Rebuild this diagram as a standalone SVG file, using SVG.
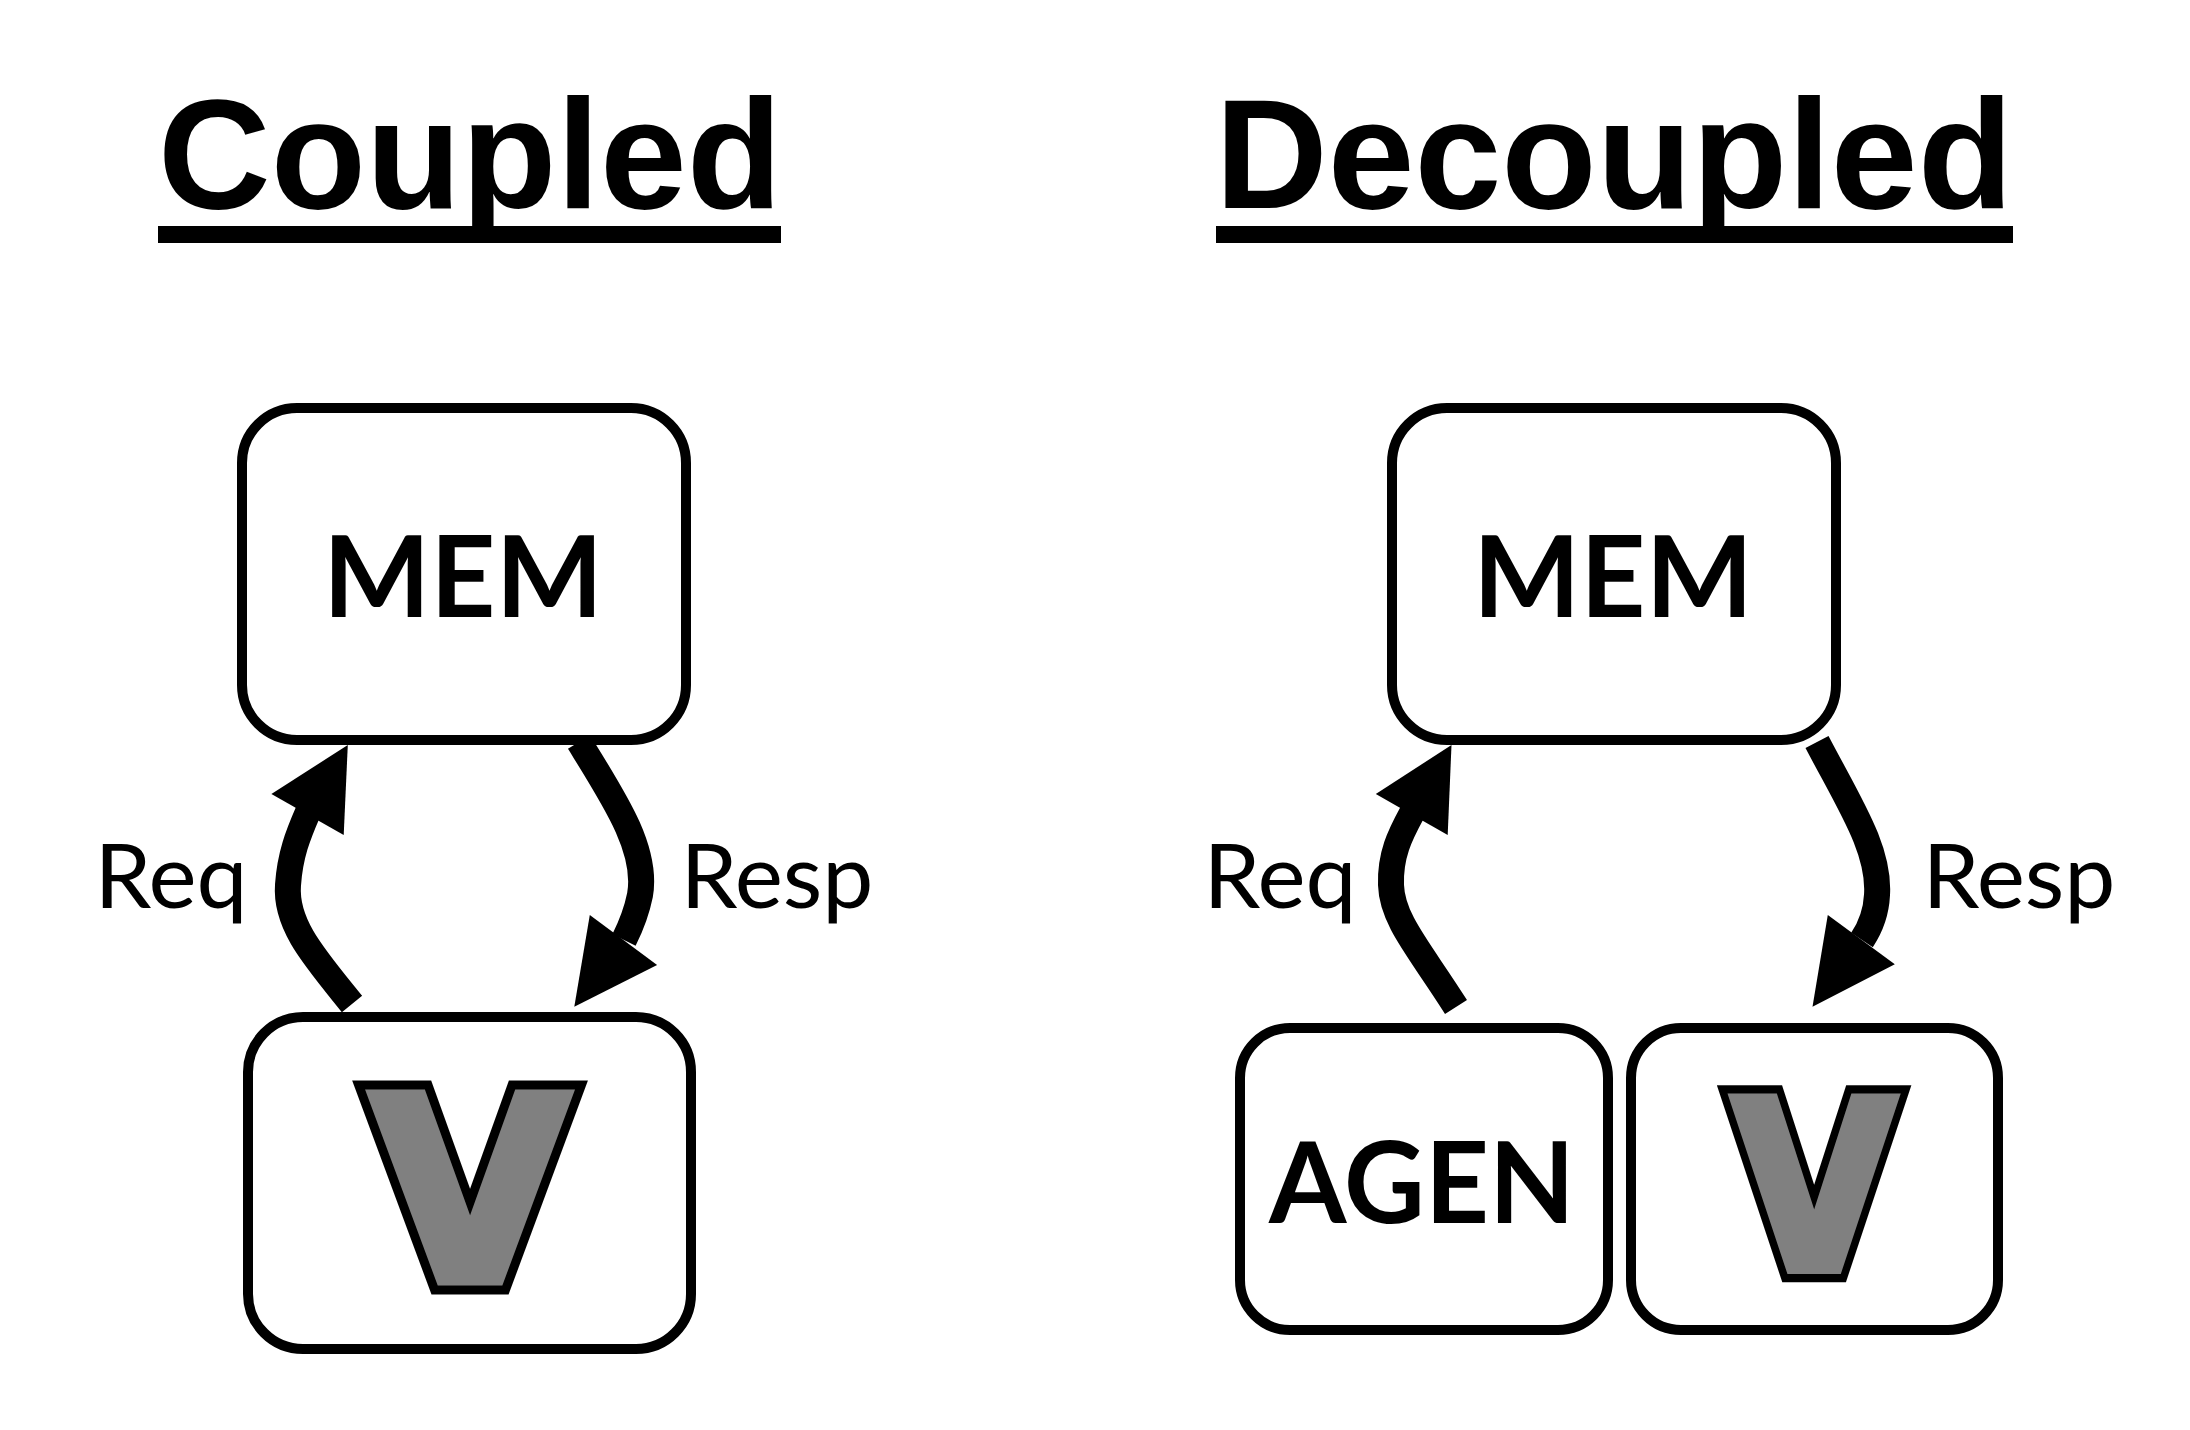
<svg xmlns="http://www.w3.org/2000/svg" xmlns:xlink="http://www.w3.org/1999/xlink" width="2190" height="1430" viewBox="0 0 2190 1430">
<style>
.title{font-family:"Liberation Sans",Arial,sans-serif;font-weight:bold;font-size:156px;fill:#000}
.box{fill:#fff;stroke:#000;stroke-width:10}
.lbl{font-family:Lato,"Open Sans",sans-serif;font-weight:bold;font-size:113px;fill:#000;text-anchor:middle}
.vback{fill:#000;stroke:#000;stroke-width:29;stroke-linejoin:miter;stroke-miterlimit:10}
.vfront{fill:#808080;stroke:#808080;stroke-width:11;stroke-linejoin:miter;stroke-miterlimit:10}
.edge{font-family:Lato,"Open Sans",sans-serif;font-size:89px;fill:#000;text-anchor:middle}
.shaft{fill:none;stroke:#000;stroke-width:26;stroke-linecap:butt}
.head{fill:#000;stroke:none}
</style>
<defs>
<text id="vglyph" x="0" y="0" font-family="DejaVu Sans, sans-serif" font-weight="bold" font-size="254" text-anchor="middle">V</text>
</defs>
<rect width="2190" height="1430" fill="#fff"/>
<g id="title-coupled">
<text class="title" x="158" y="208" textLength="624" lengthAdjust="spacingAndGlyphs">Coupled</text>
<rect x="158" y="226" width="623" height="17" fill="#000"/>
</g>
<g id="title-decoupled">
<text class="title" x="1215" y="208" textLength="798" lengthAdjust="spacingAndGlyphs">Decoupled</text>
<rect x="1216" y="226" width="797" height="17" fill="#000"/>
</g>
<g id="mem-coupled">
<rect class="box" x="242" y="408" width="444" height="332" rx="55"/>
<text class="lbl" x="463" y="617" textLength="280" lengthAdjust="spacingAndGlyphs">MEM</text>
</g>
<g id="v-coupled">
<rect class="box" x="248" y="1017" width="443" height="332" rx="55"/>
<g transform="translate(470,1280)">
<use xlink:href="#vglyph" href="#vglyph" class="vback"/>
<use xlink:href="#vglyph" href="#vglyph" class="vfront"/>
</g>
</g>
<g id="mem-decoupled">
<rect class="box" x="1392" y="408" width="444" height="332" rx="55"/>
<text class="lbl" x="1613" y="617" textLength="280" lengthAdjust="spacingAndGlyphs">MEM</text>
</g>
<g id="agen-decoupled">
<rect class="box" x="1240" y="1028" width="368" height="302" rx="50"/>
<text class="lbl" x="1422" y="1223" textLength="306" lengthAdjust="spacingAndGlyphs">AGEN</text>
</g>
<g id="v-decoupled">
<rect class="box" x="1631" y="1028" width="367" height="302" rx="50"/>
<g transform="translate(1814,1269) scale(0.825,0.917)">
<use xlink:href="#vglyph" href="#vglyph" class="vback"/>
<use xlink:href="#vglyph" href="#vglyph" class="vfront"/>
</g>
</g>
<g id="connectors">
<path class="shaft" d="M352 1004 C315 958 285 925 288 885 C290 855 298 835 308 812"/>
<polygon class="head" points="271.4,794 347.8,745 343.7,835"/>
<text class="edge" x="171" y="908" textLength="153" lengthAdjust="spacingAndGlyphs">Req</text>
<path class="shaft" d="M579 742 C615 800 648 850 640 895 C636 915 630 928 624 940"/>
<polygon class="head" points="589.8,915 657.1,965 574.3,1006.7"/>
<text class="edge" x="777" y="908" textLength="193" lengthAdjust="spacingAndGlyphs">Resp</text>
<path class="shaft" d="M1456 1007 C1420 950 1392 920 1391 885 C1390 855 1400 835 1412 813"/>
<polygon class="head" points="1375.8,794 1451.5,745 1447.7,835"/>
<text class="edge" x="1280" y="908" textLength="153" lengthAdjust="spacingAndGlyphs">Req</text>
<path class="shaft" d="M1817 742 C1850 805 1880 850 1877 895 C1876 915 1870 928 1862 940"/>
<polygon class="head" points="1827.8,915 1894.8,964.3 1812.5,1006.7"/>
<text class="edge" x="2019" y="908" textLength="193" lengthAdjust="spacingAndGlyphs">Resp</text>
</g>
</svg>
